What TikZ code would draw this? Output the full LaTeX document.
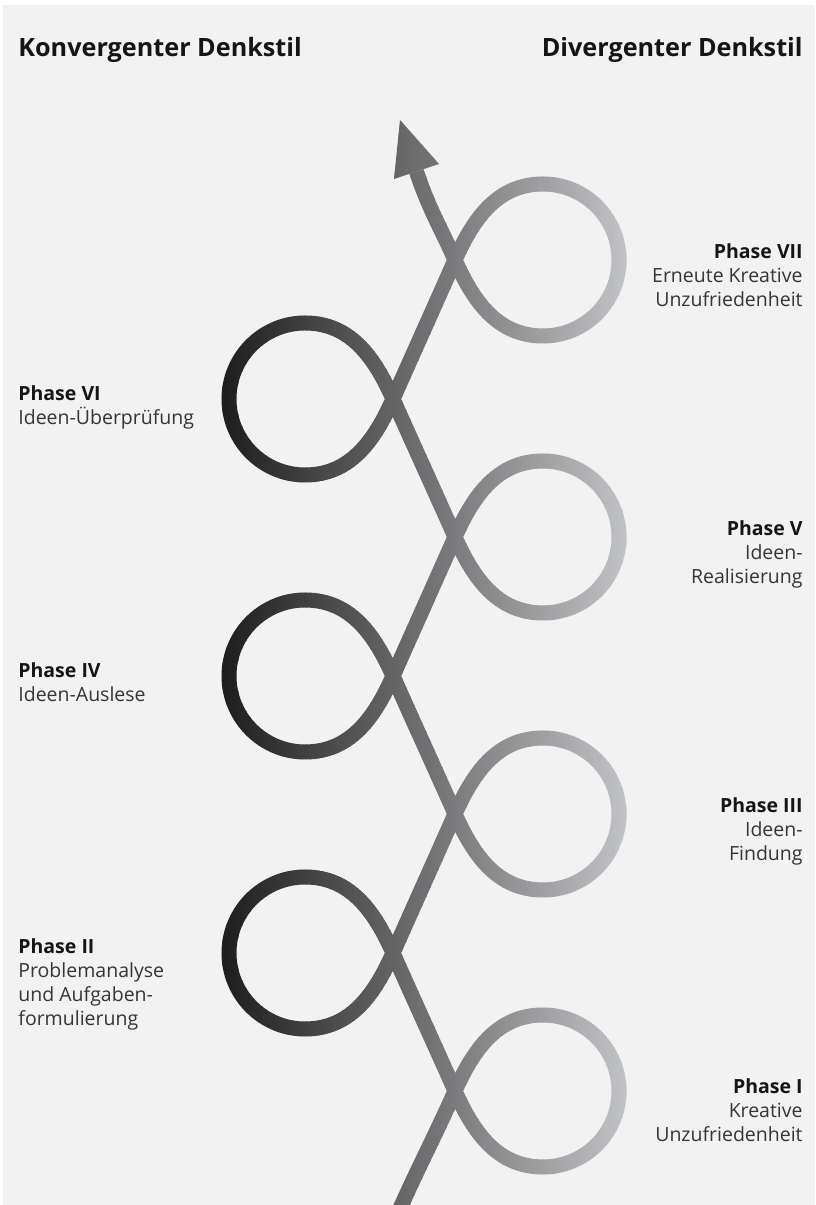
\documentclass[tikz,border=0pt]{standalone}
\usepackage{fontspec}
\setmainfont{Open Sans}
\usepackage{xcolor}
\usepackage{tikz}
\definecolor{bggray}{HTML}{F2F2F2}
\definecolor{loopdark}{HTML}{1F1E1F}
\definecolor{looplight}{HTML}{C2C3C6}
\definecolor{labelgray}{HTML}{353535}
\definecolor{headblack}{HTML}{151515}

\tikzset{
  phase/.style={inner sep=0pt, text=labelgray, font=\fontsize{9.75}{12}\selectfont},
  heading/.style={inner sep=0pt, text=headblack, font=\fontsize{12.6}{15}\selectfont\bfseries},
}
\newcommand{\phasename}[1]{{\bfseries\color{headblack}#1}}

\begin{document}
\begin{tikzpicture}[x=0.5pt, y=0.5pt]
    % Canvas of 815 x 1205 units, y counted from the bottom
    \useasboundingbox (0,0) rectangle (815,1205);
    \fill[white] (0,0) rectangle (815,1205);
    \fill[bggray] (3,0) rectangle (815,1200);

    % Crossings and loop centres
    \def\crossR{455}
    \def\crossL{393}
    \def\loopR{543}
    \def\loopL{305}
    \def\loopr{76}

    % The spiral: a right loop at \y, a left loop 138 higher
    \def\spiral{(398,-8) \foreach \y in {114,391,668} {
        to[out=66,in=-114] (\crossR,\y) to[out=66,in=180] (\loopR,\y+\loopr)
        arc(90:-90:\loopr) to[out=180,in=-66] (\crossR,\y)
        to[out=114,in=-66] (\crossL,\y+138) to[out=114,in=0] (\loopL,\y+138+\loopr)
        arc(90:270:\loopr) to[out=0,in=-114] (\crossL,\y+138)}
      to[out=66,in=-114] (\crossR,945) to[out=66,in=180] (\loopR,945+\loopr)
      arc(90:-90:\loopr) to[out=180,in=-66] (\crossR,945)
      to[out=114,in=-72] (416.5,1033.5)}
    \def\arrowtip{(400,1085) -- (394,1026) -- (439,1041) -- cycle}

    % Draw it in thin vertical strips, dark on the left, light on the right
    \foreach \i in {0,...,104} {
      \pgfmathsetmacro\stripx{214+4*\i}
      \pgfmathtruncatemacro\mixpct{min(100,max(0,(\stripx+2-222)/404*100))}
      \begin{scope}
        \clip (\stripx,-10) rectangle (\stripx+4.6,1215);
        \colorlet{stripcol}{looplight!\mixpct!loopdark}
        \draw[line width=7.5pt, stripcol] \spiral;
        \fill[stripcol] \arrowtip;
      \end{scope}
    }

    % Headings
    \node[heading, anchor=base west] (konv) at (18,1148) {Konvergenter Denkstil};
    \node[heading, anchor=base east] (div) at (803,1148) {Divergenter Denkstil};

    % Phases on the right
    \node[phase, anchor=north east, align=right] (p7) at (803,962) {\phasename{Phase VII}\\Erneute Kreative\\Unzufriedenheit};
    \node[phase, anchor=north east, align=right] (p5) at (803,685) {\phasename{Phase V}\\Ideen-\\Realisierung};
    \node[phase, anchor=north east, align=right] (p3) at (803,408) {\phasename{Phase III}\\Ideen-\\Findung};
    \node[phase, anchor=north east, align=right] (p1) at (803,127) {\phasename{Phase I}\\Kreative\\Unzufriedenheit};

    % Phases on the left
    \node[phase, anchor=north west, align=left] (p6) at (18,820) {\phasename{Phase VI}\\Ideen-Überprüfung};
    \node[phase, anchor=north west, align=left] (p4) at (18,543) {\phasename{Phase IV}\\Ideen-Auslese};
    \node[phase, anchor=north west, align=left] (p2) at (18,267) {\phasename{Phase II}\\Problemanalyse\\und Aufgaben-\\formulierung};
\end{tikzpicture}
\end{document}
